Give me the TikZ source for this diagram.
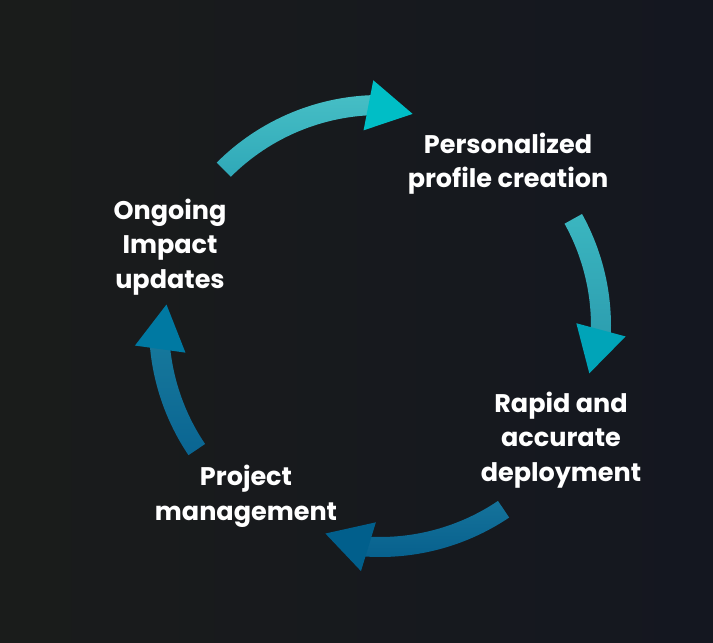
\documentclass[tikz,border=0pt]{standalone}
\usepackage{fontspec}
\setmainfont{Poppins}
\usepackage{tikz}
\usetikzlibrary{calc}
\definecolor{bgleft}{HTML}{1A1C1B}
\definecolor{bgright}{HTML}{141720}
\definecolor{topa}{HTML}{46BEC5}
\definecolor{topb}{HTML}{2FA8B8}
\definecolor{tophead}{HTML}{00BEC6}
\definecolor{righta}{HTML}{3BB6C0}
\definecolor{rightb}{HTML}{2C9DAF}
\definecolor{righthead}{HTML}{00A4B8}
\definecolor{bota}{HTML}{15739B}
\definecolor{botb}{HTML}{065F8C}
\definecolor{bothead}{HTML}{015F8C}
\definecolor{lefta}{HTML}{17799C}
\definecolor{leftb}{HTML}{0A6592}
\definecolor{lefthead}{HTML}{0079A2}
\tikzset{lbl/.style={text=white, align=center, inner sep=0pt,
  font=\fontsize{25.5}{34.5}\selectfont\bfseries}}

\begin{document}
\begin{tikzpicture}[x=1pt,y=1pt]
\shade[left color=bgleft, right color=bgright] (0,0) rectangle (713,643);
\coordinate (c) at (380,317);

\shade[top color=topa, bottom color=topb] ($(c)+(135:231)$) arc[start angle=135, end angle=90, radius=231]
  -- ($(c)+(90:211)$) arc[start angle=90, end angle=135, radius=211] -- cycle;
\coordinate (h1) at ($(c)+(93:221)$);
\fill[tophead] ($(h1)+(79:25.5)$) -- ($(h1)+(-11:45)$) -- ($(h1)+(-101:25.5)$) -- cycle;

\shade[top color=righta, bottom color=rightb] ($(c)+(29:231)$) arc[start angle=29, end angle=-4, radius=231]
  -- ($(c)+(-4:211)$) arc[start angle=-4, end angle=29, radius=211] -- cycle;
\coordinate (h2) at ($(c)+(-1:221)$);
\fill[righthead] ($(h2)+(-15:25.5)$) -- ($(h2)+(-105:45)$) -- ($(h2)+(-195:25.5)$) -- cycle;

\shade[top color=bota, bottom color=botb] ($(c)+(-56:231)$) arc[start angle=-56, end angle=-96, radius=231]
  -- ($(c)+(-96:211)$) arc[start angle=-96, end angle=-56, radius=211] -- cycle;
\coordinate (h3) at ($(c)+(-93:221)$);
\fill[bothead] ($(h3)+(-107:25.5)$) -- ($(h3)+(-197:45)$) -- ($(h3)+(-287:25.5)$) -- cycle;

\shade[top color=lefta, bottom color=leftb] ($(c)+(214:231)$) arc[start angle=214, end angle=183, radius=231]
  -- ($(c)+(183:211)$) arc[start angle=183, end angle=214, radius=211] -- cycle;
\coordinate (h4) at ($(c)+(186:221)$);
\fill[lefthead] ($(h4)+(172:25.5)$) -- ($(h4)+(82:45)$) -- ($(h4)+(-8:25.5)$) -- cycle;

\node[lbl] (profile) at (508,479.5) {Personalized\\profile creation};
\node[lbl] (deploy) at (561,203) {Rapid and\\accurate\\deployment};
\node[lbl] (project) at (246,146.5) {Project\\management};
\node[lbl] (impact) at (170,396) {Ongoing\\Impact\\updates};
\end{tikzpicture}
\end{document}
